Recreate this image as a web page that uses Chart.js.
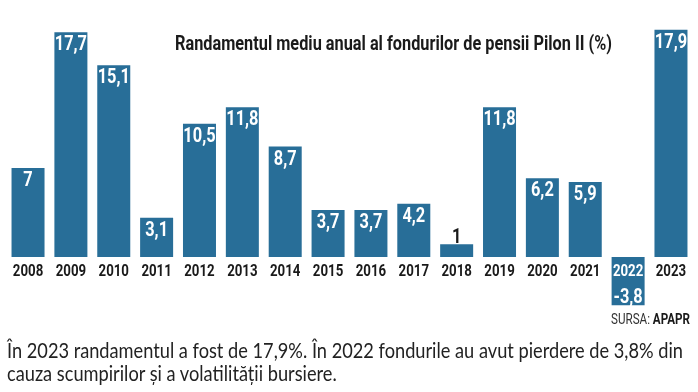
<!DOCTYPE html>
<html>
<head>
<meta charset="utf-8">
<script src="https://cdn.jsdelivr.net/npm/chart.js@4"></script>
<style>
  html, body { margin: 0; padding: 0; background: #fff; }
  #wrap { position: relative; width: 698px; height: 392px; overflow: hidden; }
  canvas { position: absolute; left: 0; top: 0; }
  .txt { position: absolute; white-space: nowrap; transform-origin: left top; }
  #title { left: 175px; top: 31px; font: bold 21px Roboto, sans-serif; color: #1a1a1a; line-height: 24px; }
  #source { left: 611px; top: 311px; font: 14px Roboto, sans-serif; color: #333; line-height: 16px; }
  #source b { color: #1a1a1a; }
  .cap { left: 7px; font: 21px Lato, "Noto Sans", sans-serif; color: #222; line-height: 24px; }
  #cap1 { top: 338px; }
  #cap2 { top: 361px; }
</style>
</head>
<body>
<div id="wrap">
  <canvas id="chart" width="698" height="392"></canvas>
  <div class="txt" id="title">Randamentul mediu anual al fondurilor de pensii Pilon II (%)</div>
  <div class="txt" id="source">SURSA: <b>APAPR</b></div>
  <div class="txt cap" id="cap1">În 2023 randamentul a fost de 17,9%. În 2022 fondurile au avut pierdere de 3,8% din</div>
  <div class="txt cap" id="cap2">cauza scumpirilor și a volatilității bursiere.</div>
</div>
<script>
const years = ['2008', '2009', '2010', '2011', '2012', '2013', '2014', '2015',
               '2016', '2017', '2018', '2019', '2020', '2021', '2022', '2023'];
const returns = [7, 17.7, 15.1, 3.1, 10.5, 11.8, 8.7, 3.7, 3.7, 4.2, 1, 11.8, 6.2, 5.9, -3.8, 17.9];

const barBlue = '#286e98';
const dark = '#1a1a1a';
const squeeze = 0.78;   // fake a condensed face

// squeeze a text box to a given width
function fit(el, width) {
    const w = el.getBoundingClientRect().width;
    el.style.transform = 'scaleX(' + (width / w) + ')';
    return width / w;
}
const capScale = fit(document.getElementById('cap1'), 676);
document.getElementById('cap2').style.transform = 'scaleX(' + capScale + ')';
fit(document.getElementById('title'), 437);
fit(document.getElementById('source'), 79);

function narrowText(ctx, text, x, y) {
    ctx.save();
    ctx.translate(x, y);
    ctx.scale(squeeze, 1);
    ctx.fillText(text, 0, 0);
    ctx.restore();
}

// value labels and year labels
const barLabels = {
    id: 'barLabels',
    afterDatasetsDraw(chart) {
        const ctx = chart.ctx;
        const meta = chart.getDatasetMeta(0);
        const xScale = chart.scales.x;
        const zero = chart.scales.y.getPixelForValue(0);
        ctx.save();
        ctx.textAlign = 'center';
        ctx.textBaseline = 'alphabetic';

        ctx.font = 'bold 21px Roboto, sans-serif';
        meta.data.forEach((bar, i) => {
            const v = returns[i];
            const text = String(v).replace('.', ',');
            if (v < 0) {
                ctx.fillStyle = '#fff';
                narrowText(ctx, text, bar.x, bar.y - 2);
            } else if (v < 2) {
                ctx.fillStyle = dark;
                narrowText(ctx, text, bar.x, bar.y - 1);
            } else {
                ctx.fillStyle = '#fff';
                narrowText(ctx, text, bar.x, bar.y + 18);
            }
        });

        ctx.font = 'bold 17px Roboto, sans-serif';
        years.forEach((y, i) => {
            ctx.fillStyle = returns[i] < 0 ? '#fff' : dark;
            narrowText(ctx, y, xScale.getPixelForTick(i), zero + 19);
        });
        ctx.restore();
    }
};

new Chart(document.getElementById('chart').getContext('2d'), {
    type: 'bar',
    data: {
        labels: years,
        datasets: [{
            data: returns,
            backgroundColor: barBlue,
            barPercentage: 0.77,
            categoryPercentage: 1
        }]
    },
    options: {
        responsive: false,
        animation: false,
        layout: { padding: { left: 6.6, right: 5.6, top: 3, bottom: 71.5 } },
        plugins: { legend: { display: false }, tooltip: { enabled: false } },
        scales: {
            x: {
                position: { y: 0 },
                grid: { display: false },
                border: { display: false },
                ticks: { display: false }
            },
            y: { display: false, min: -5, max: 20 }
        }
    },
    plugins: [barLabels]
});
</script>
</body>
</html>
